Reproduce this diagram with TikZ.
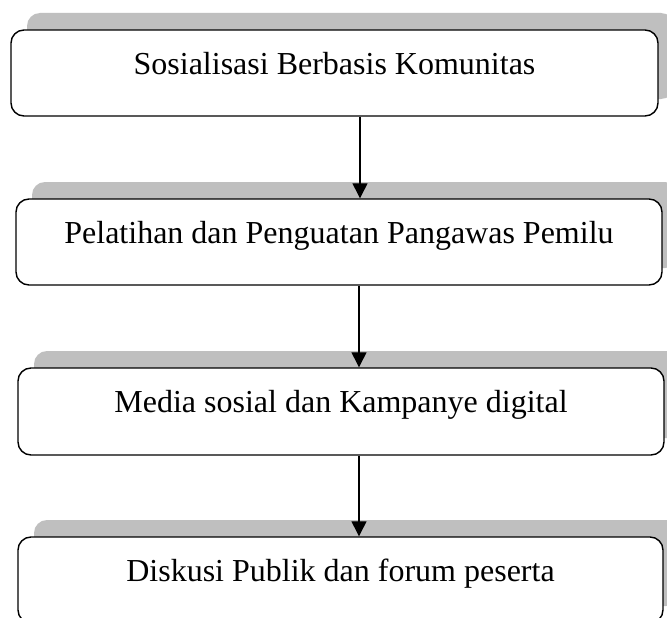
\documentclass[tikz,border=0pt]{standalone}
\usepackage{fontspec}
\setmainfont{Liberation Serif}
\usetikzlibrary{arrows.meta,shadows}
\definecolor{shadowgray}{HTML}{BFBFBF}
\tikzset{
  stepbox/.style={draw=black, line width=1.4pt, fill=white, rounded corners=13pt,
    rectangle, inner sep=0pt, minimum width=646pt, minimum height=86pt,
    drop shadow={shadow xshift=16pt, shadow yshift=17pt, fill=shadowgray, opacity=1}},
  boxtext/.style={anchor=base, inner sep=0pt, font=\fontsize{32}{38}\selectfont},
  arr/.style={draw=black, line width=1.3pt, -{Triangle[width=15pt,length=15pt]}}
}
\begin{document}
\begin{tikzpicture}[x=1pt,y=-1pt]
\clip (0,0) rectangle (667,618);
\fill[white] (0,0) rectangle (667,618);
\node[stepbox, minimum width=647pt] (b1) at (334.5,73) {};
\node[stepbox] (b2) at (339,242) {};
\node[stepbox, minimum height=87pt] (b3) at (341,411.5) {};
\node[stepbox, minimum width=645pt] (b4) at (340.5,580) {};
\node[boxtext] (t1) at ([yshift=-45pt]b1.north) {Sosialisasi Berbasis Komunitas};
\node[boxtext] (t2) at ([yshift=-45pt]b2.north) {Pelatihan dan Penguatan Pangawas Pemilu};
\node[boxtext] (t3) at ([yshift=-45pt]b3.north) {Media sosial dan Kampanye digital};
\node[boxtext] (t4) at ([yshift=-45pt]b4.north) {Diskusi Publik dan forum peserta};
\coordinate (ax) at (360,0);
\coordinate (ay) at (359,0);
\draw[arr] (b1.south -| ax) -- (b2.north -| ax);
\draw[arr] (b2.south -| ay) -- (b3.north -| ay);
\draw[arr] (b3.south -| ay) -- (b4.north -| ay);
\end{tikzpicture}
\end{document}
